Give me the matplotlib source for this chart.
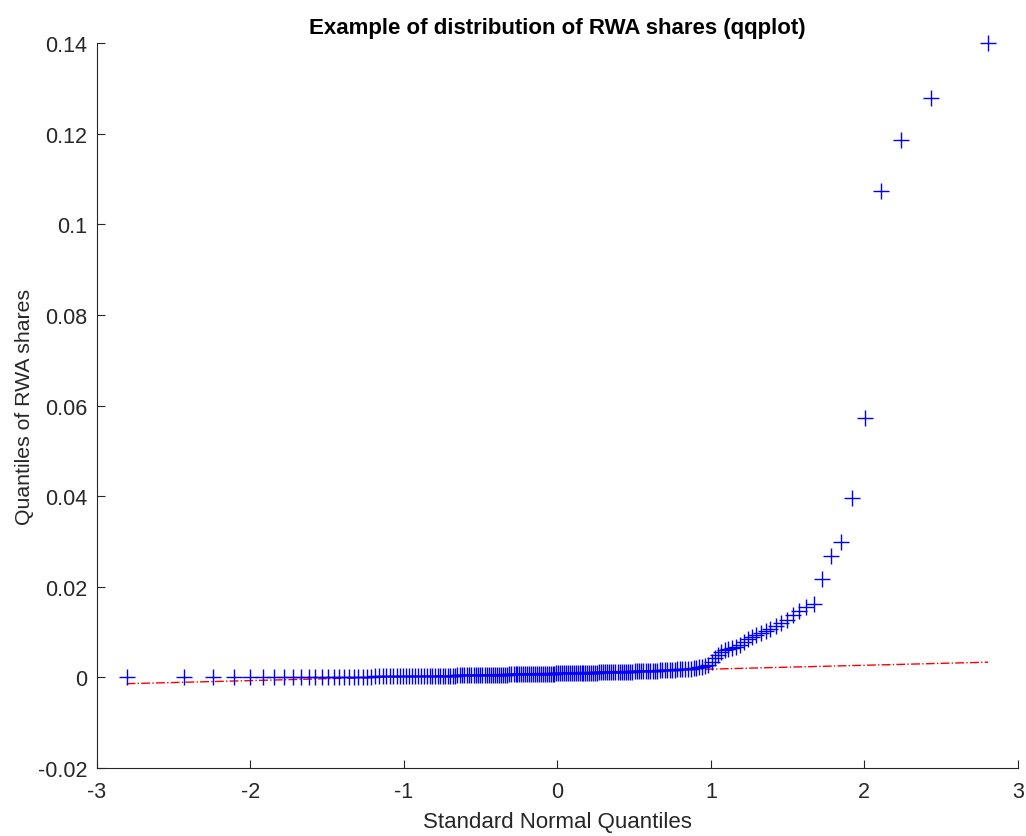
from statistics import NormalDist
import numpy as np
import matplotlib.pyplot as plt

# sorted RWA shares (in units of 1e-4)
low_shares = [0.3, 0.4, 0.5, 0.5, 0.6, 0.7, 0.8, 0.9, 1.0, 1.0,
              1.1, 1.2, 1.3, 1.3, 1.4, 1.5, 1.6, 1.6, 1.7, 1.8,
              1.9, 2.0, 2.0, 2.1, 2.2, 2.3, 2.3, 2.4, 2.5, 2.6,
              2.7, 2.8, 2.9, 3.0, 3.0, 3.1, 3.2, 3.3, 3.3, 3.4,
              3.5, 3.5, 3.6, 3.7, 3.8, 3.8, 3.9, 4.0, 4.0, 4.1,
              4.2, 4.3, 4.4, 4.5, 4.6, 4.7, 4.8, 4.9, 5.0, 5.1,
              5.2, 5.3, 5.3, 5.4, 5.5, 5.6, 5.7, 5.8, 5.9, 6.0,
              6.0, 6.1, 6.2, 6.3, 6.4, 6.5, 6.6, 6.7, 6.7, 6.8,
              6.9, 7.0, 7.1, 7.2, 7.3, 7.3, 7.4, 7.5, 7.6, 7.7,
              7.8, 7.9, 8.0, 8.1, 8.2, 8.3, 8.4, 8.5, 8.6, 8.7]
mid_shares = [8.8, 8.9, 9.0, 9.1, 9.2, 9.3, 9.4, 9.5, 9.6, 9.7,
              9.8, 9.9, 10.0, 10.1, 10.2, 10.3, 10.4, 10.5, 10.6, 10.7,
              10.8, 10.9, 11.0, 11.1, 11.2, 11.3, 11.4, 11.5, 11.6, 11.7,
              11.8, 11.9, 12.0, 12.2, 12.4, 12.6, 12.8, 13.0, 13.2, 13.4,
              13.6, 13.8, 14.0, 14.2, 14.4, 14.6, 14.8, 15.0, 15.2, 15.5,
              15.8, 16.1, 16.4, 16.7, 17.0, 17.3, 17.6, 18.0, 18.4, 18.8,
              19.2, 19.6, 20.0, 21.0, 22.0, 23.0, 25.0, 28.0]
tail_shares = [35, 42, 49, 55, 60, 62, 64, 67, 71, 79,
               85, 89, 93, 98, 103, 107, 113, 120, 126, 137,
               146, 156, 163, 218, 267, 299, 397, 572, 1074, 1185,
               1278, 1400]

y = np.array(low_shares + mid_shares + tail_shares) * 1e-4
n = len(y)
# standard normal plotting positions, as MATLAB qqplot does
nd = NormalDist()
x = np.array([nd.inv_cdf((i - 0.5) / n) for i in range(1, n + 1)])

# reference line through the quartiles
q1x, q3x = nd.inv_cdf(0.25), nd.inv_cdf(0.75)
q1y, q3y = np.percentile(y, [25, 75])
slope = (q3y - q1y) / (q3x - q1x)
line = lambda v: q1y + slope * (v - q1x)

plt.rcParams['font.family'] = ['Liberation Sans', 'DejaVu Sans']
plt.rcParams['axes.unicode_minus'] = False
fig = plt.figure(figsize=(10.26, 8.37), dpi=100)
ax = fig.add_axes([0.0945, 0.0812, 0.8975, 0.8662])

ax.plot(x, y, '+', color='blue', markersize=11, markeredgewidth=1.0,
        zorder=3, clip_on=False)
ax.plot([x[0], q1x], [line(x[0]), q1y], color='red', linestyle='-.', linewidth=1)
ax.plot([q3x, x[-1]], [q3y, line(x[-1])], color='red', linestyle='-.', linewidth=1)
ax.plot([q1x, q3x], [q1y, q3y], color='red', linestyle='-', linewidth=1)

ax.set_xlim(-3, 3)
ax.set_ylim(-0.02, 0.14)
ax.set_xticks(range(-3, 4))
ax.set_yticks(np.arange(-0.02, 0.141, 0.02))
ax.set_yticklabels(['%g' % round(v, 2) for v in np.arange(-0.02, 0.141, 0.02)])

for s in ['top', 'right']:
    ax.spines[s].set_visible(False)
for s in ['left', 'bottom']:
    ax.spines[s].set_color('#262626')
    ax.spines[s].set_linewidth(0.8)
ax.tick_params(direction='in', length=6, width=0.8, colors='#262626',
               labelsize=15.5, labelcolor='#262626')
ax.tick_params(axis='x', pad=9)
ax.tick_params(axis='y', pad=7)

ax.set_title('Example of distribution of RWA shares (qqplot)', fontsize=16,
             fontweight='bold', pad=7)
ax.set_xlabel('Standard Normal Quantiles', fontsize=16, color='#262626', labelpad=7)
ax.set_ylabel('Quantiles of RWA shares', fontsize=15.3, color='#262626', labelpad=3)

fig.savefig('out.png', dpi=100)
